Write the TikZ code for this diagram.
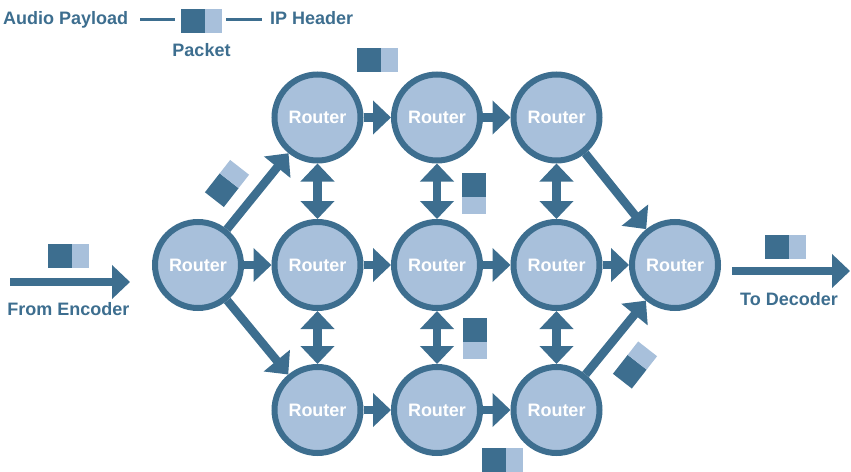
\documentclass[tikz,border=0pt]{standalone}
\usepackage{fontspec}
\setmainfont{Liberation Sans}
\usepackage{color}
\definecolor{mydarkblue}{RGB}{61,110,143}
\definecolor{mylightblue}{RGB}{168,192,219}
\usepackage{tikz}
\usetikzlibrary{arrows.meta}
\newcommand{\sizerouter}{86pt}
\newcommand{\tipflow}{Triangle[width=33pt, length=18pt]}
\tikzset{
    common/.style={font=\bfseries\fontsize{18}{21}\selectfont},
    router/.style={common, circle, draw=mydarkblue, fill=mylightblue, line width=6pt, minimum size=\sizerouter, inner sep=0pt, text=white},
    caption/.style={common, inner sep=0pt, text=mydarkblue},
    flow/.style={draw=mydarkblue, line width=8.5pt, -{\tipflow}},
    twoway/.style={flow, {\tipflow}-{\tipflow}},
    legendline/.style={draw=mydarkblue, line width=3pt},
    packet/.pic={
        \fill[mydarkblue] (-20.5,-12) rectangle (3.5,12);
        \fill[mylightblue] (3.5,-12) rectangle (20.5,12);
    }
}
\begin{document}
\begin{tikzpicture}[x=1pt, y=-1pt]
    \useasboundingbox (0,0) rectangle (851,471);

    % legend
    \node[caption, anchor=base west] (payloadlbl) at (3,24) {Audio Payload};
    \node[caption, anchor=base west] (headerlbl) at (270,24) {IP Header};
    \node[caption, anchor=base] (packetlbl) at (201.5,56) {Packet};
    \pic at (201.5,20.5) {packet};
    \coordinate (payloadA) at (140,19);
    \coordinate (payloadB) at (175,19);
    \coordinate (headerA) at (226,19);
    \coordinate (headerB) at (262,19);
    \draw[legendline] (payloadA) -- (payloadB);
    \draw[legendline] (headerA) -- (headerB);

    % routers
    \node[router] (src) at (198,265) {Router};
    \node[router] (top1) at (317.5,117.5) {Router};
    \node[router] (top2) at (437,117.5) {Router};
    \node[router] (top3) at (556.5,117.5) {Router};
    \node[router] (mid1) at (317.5,265) {Router};
    \node[router] (mid2) at (437,265) {Router};
    \node[router] (mid3) at (556.5,265) {Router};
    \node[router] (bot1) at (317.5,410) {Router};
    \node[router] (bot2) at (437,410) {Router};
    \node[router] (bot3) at (556.5,410) {Router};
    \node[router] (sink) at (675,265) {Router};

    % forward links
    \draw[flow] (src) -- (top1);
    \draw[flow] (src) -- (mid1);
    \draw[flow] (src) -- (bot1);
    \draw[flow] (top1) -- (top2);
    \draw[flow] (top2) -- (top3);
    \draw[flow] (mid1) -- (mid2);
    \draw[flow] (mid2) -- (mid3);
    \draw[flow] (bot1) -- (bot2);
    \draw[flow] (bot2) -- (bot3);
    \draw[flow] (top3) -- (sink);
    \draw[flow] (mid3) -- (sink);
    \draw[flow] (bot3) -- (sink);

    % links both ways
    \draw[twoway] (top1) -- (mid1);
    \draw[twoway] (top2) -- (mid2);
    \draw[twoway] (top3) -- (mid3);
    \draw[twoway] (mid1) -- (bot1);
    \draw[twoway] (mid2) -- (bot2);
    \draw[twoway] (mid3) -- (bot3);

    % in and out
    \coordinate (encoder) at (10,282);
    \coordinate (encoderend) at (130,282);
    \coordinate (decoder) at (732,271);
    \coordinate (decoderend) at (850,271);
    \draw[flow] (encoder) -- (encoderend);
    \draw[flow] (decoder) -- (decoderend);
    \node[caption, anchor=base] (encoderlbl) at (68.5,315) {From Encoder};
    \node[caption, anchor=base] (decoderlbl) at (789,305) {To Decoder};

    % packets on the way
    \pic at (68.5,255.5) {packet};
    \pic[rotate=52] at (227,183.5) {packet};
    \pic at (377.5,60) {packet};
    \pic[rotate=-90] at (474,193.5) {packet};
    \pic[rotate=-90] at (474.5,338.5) {packet};
    \pic at (502.5,460) {packet};
    \pic[rotate=52] at (635,365) {packet};
    \pic at (785.5,246.5) {packet};
\end{tikzpicture}
\end{document}
